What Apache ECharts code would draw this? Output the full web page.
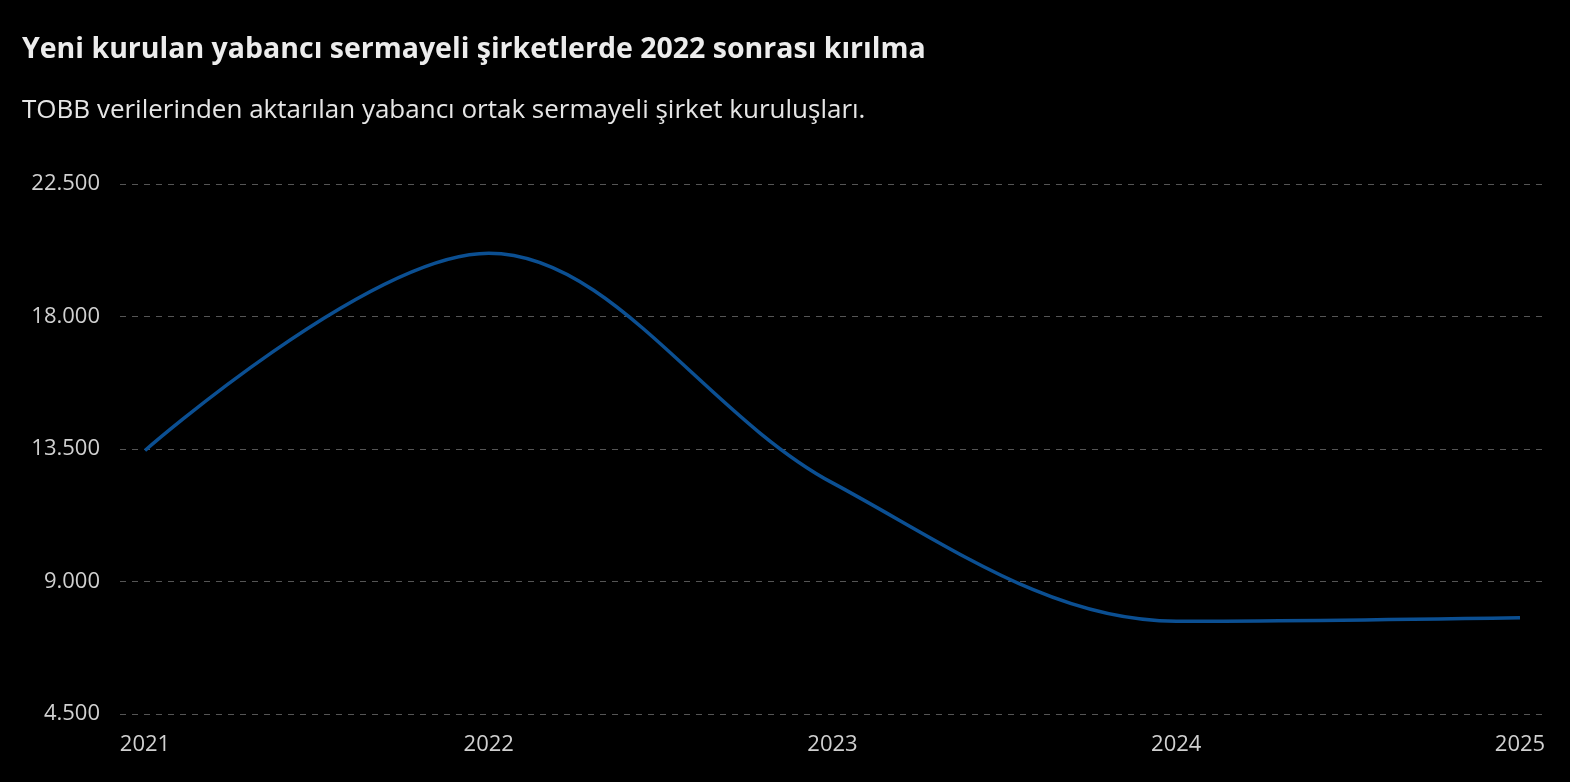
<!DOCTYPE html>
<html><head><meta charset="utf-8">
<script src="https://cdn.jsdelivr.net/npm/echarts@6/dist/echarts.min.js"></script>
<style>html,body{margin:0;padding:0;background:#000;}#c{width:1570px;height:782px;}</style>
</head><body><div id="c"></div>
<script>
const years = [2021, 2022, 2023, 2024, 2025];
const values = [13450, 20150, 12350, 7650, 7770];
const yTicks = [4500, 9000, 13500, 18000, 22500];
const titleText = 'Yeni kurulan yabancı sermayeli şirketlerde 2022 sonrası kırılma';
const subtitleText = 'TOBB verilerinden aktarılan yabancı ortak sermayeli şirket kuruluşları.';

function fmt(v){ return String(Math.round(v)).replace(/\B(?=(\d{3})+(?!\d))/g, '.'); }

const chart = echarts.init(document.getElementById('c'));
chart.setOption({
  backgroundColor: '#000',
  animation: false,
  title: [
    { text: titleText, left: 17, top: 30, textStyle: { color: '#ececec', fontSize: 28.5, fontWeight: 'bold', fontFamily: 'Open Sans' } },
    { text: subtitleText, left: 17, top: 93, textStyle: { color: '#e6e6e6', fontSize: 26, fontWeight: 'normal', fontFamily: 'Open Sans' } }
  ],
  grid: { left: 120, right: 27, top: 184, bottom: 68 },
  xAxis: {
    type: 'value',
    min: 2021 - 25/343.75, max: 2025 + 23/343.75,
    axisLine: { show: false }, axisTick: { show: false }, splitLine: { show: false },
    axisLabel: { customValues: years, color: '#d0d0d0', fontSize: 22, fontFamily: 'Open Sans', margin: 20, formatter: v => String(Math.round(v)) }
  },
  yAxis: {
    type: 'value', min: yTicks[0], max: yTicks[yTicks.length-1], interval: 4500,
    axisLine: { show: false }, axisTick: { show: false },
    axisLabel: { color: '#d0d0d0', fontSize: 22, fontFamily: 'Open Sans', margin: 20, formatter: fmt },
    splitLine: { lineStyle: { color: '#555', type: [6, 6], width: 1 } }
  },
  series: [{
    type: 'line', smooth: 0.35, symbol: 'none',
    data: years.map((y, i) => [y, values[i]]),
    lineStyle: { color: '#0b4f92', width: 3.5 }
  }]
});
</script></body></html>
